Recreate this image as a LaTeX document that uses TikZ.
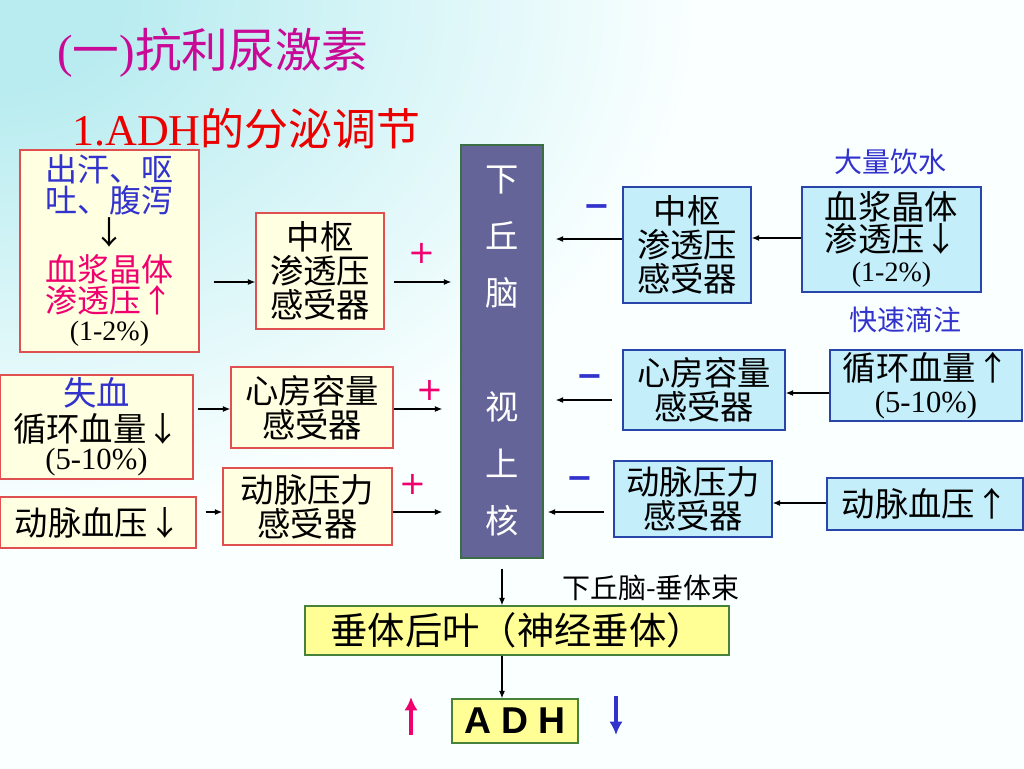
\documentclass[tikz,border=0pt]{standalone}
\usepackage{fontspec}
\setmainfont{Noto Sans CJK SC}
\newfontfamily\latin{Liberation Serif}
\newfontfamily\signfont{DejaVu Sans}
\newfontfamily\adhfont{Liberation Sans}
\usepackage{xcolor}
\usetikzlibrary{arrows.meta,positioning}

\definecolor{bgtop}{RGB}{185,236,240}
\definecolor{bgbot}{RGB}{250,255,255}
\definecolor{cmag}{RGB}{200,10,150}
\definecolor{cred}{RGB}{235,0,0}
\definecolor{cblue}{RGB}{50,50,205}
\definecolor{cpink}{RGB}{240,0,110}
\definecolor{lfill}{RGB}{255,255,225}
\definecolor{lline}{RGB}{225,80,80}
\definecolor{rfill}{RGB}{195,238,250}
\definecolor{rline}{RGB}{40,70,170}
\definecolor{hfill}{RGB}{100,100,152}
\definecolor{hline}{RGB}{60,110,70}
\definecolor{yfill}{RGB}{255,255,150}
\definecolor{yline}{RGB}{70,130,60}

% background: cyan in the upper left corner, fading to white
\pgfdeclareradialshading{bgshade}{\pgfpoint{0bp}{0bp}}{color(0bp)=(bgtop); color(3bp)=(bgtop); color(17bp)=(bgbot); color(50bp)=(bgbot)}

\tikzset{
    wh/.style 2 args={minimum width=#1*0.75pt,minimum height=#2*0.75pt},
    box/.style={draw,line width=1.1pt,inner sep=0pt,align=center,font=\fontsize{25}{25.5}\selectfont},
    lbox/.style={box,draw=lline,fill=lfill},
    rbox/.style={box,draw=rline,fill=rfill},
    ybox/.style={box,draw=yline,fill=yfill},
    arr/.style={-{Latex[length=5.5pt,width=4.5pt]},line width=0.9pt},
    bigarr/.style={-{Latex[length=10pt,width=10pt]},line width=2.5pt},
    plus/.style={text=cpink,font=\signfont\fontsize{24}{24}\selectfont},
    minus/.style={text=cblue,font=\signfont\bfseries\fontsize{24}{24}\selectfont},
    note/.style={font=\fontsize{21}{21}\selectfont}
}

\begin{document}
\begin{tikzpicture}[x=0.75pt,y=-0.75pt]
    % Background
    \useasboundingbox (0,0) rectangle (1024,768);
    \begin{scope}
        \clip (0,0) rectangle (1024,768);
        \shade[shading=bgshade] (-1024,-768) rectangle (1024,768);
    \end{scope}

    % Titles
    \node[anchor=west,inner sep=0pt,text=cmag,font=\fontsize{35}{35}\selectfont] (title) at (57,53) {{\latin(}一{\latin)}抗利尿激素};
    \node[anchor=west,inner sep=0pt,text=cred,font=\fontsize{33}{33}\selectfont] (subtitle) at (72,129) {{\latin 1.ADH}的分泌调节};

    % Hypothalamus
    \node[box,draw=hline,fill=hfill,text=white,wh={82}{413},font=\fontsize{25}{42.75}\selectfont] (hyp) at (502,351.5) {下\\丘\\脑\\[42.75pt]视\\上\\核};

    % Left side: stimuli
    \node[lbox,wh={179}{202},font=\fontsize{24}{21.5}\selectfont] (l1) at (109.5,251)
        {\textcolor{cblue}{出汗、呕}\\\textcolor{cblue}{吐、腹泻}\\[1pt]↓\\[4pt]\textcolor{cpink}{血浆晶体}\\\textcolor{cpink}{渗透压↑}\\{\latin\fontsize{21}{21}\selectfont(1-2\%)}};
    \node[lbox,wh={193}{104}] (l2) at (96.5,427)
        {\textcolor{cblue}{失血}\\[1pt]循环血量↓\\[-4pt]{\latin\fontsize{23}{23}\selectfont(5-10\%)}};
    \node[lbox,wh={196}{51}] (l3) at (98,522.5) {动脉血压↓};

    % Left side: receptors
    \node[lbox,wh={128}{116}] (m1) at (320,271) {中枢\\渗透压\\感受器};
    \node[lbox,wh={162}{81}] (m2) at (312,407.5) {心房容量\\感受器};
    \node[lbox,wh={169}{77}] (m3) at (307.5,506.5) {动脉压力\\感受器};

    % Right side: receptors
    \node[rbox,wh={128}{116}] (rm1) at (687,245) {中枢\\渗透压\\感受器};
    \node[rbox,wh={162}{80}] (rm2) at (704,390) {心房容量\\感受器};
    \node[rbox,wh={158}{76}] (rm3) at (693,499) {动脉压力\\感受器};

    % Right side: stimuli
    \node[rbox,wh={179}{105},font=\fontsize{25}{22.5}\selectfont] (r1) at (891.5,239.5)
        {血浆晶体\\渗透压↓\\{\latin\fontsize{21}{21}\selectfont(1-2\%)}};
    \node[rbox,wh={192}{71},font=\fontsize{25}{24}\selectfont] (r2) at (926,385.5)
        {循环血量↑\\{\latin\fontsize{23}{23}\selectfont(5-10\%)}};
    \node[rbox,wh={196}{52}] (r3) at (925,504) {动脉血压↑};
    \node[note,text=cblue] (drink) at (890,162) {大量饮水};
    \node[note,text=cblue] (drip) at (905,320) {快速滴注};

    % Pituitary and ADH
    \node[ybox,wh={424}{49},font=\fontsize{28}{28}\selectfont] (pit) at (517,630.5) {垂体后叶（神经垂体）};
    \node[ybox,wh={126}{44},font=\adhfont\bfseries\fontsize{28}{28}\selectfont] (adh) at (515,721) {A D H};
    \node[note] (tract) at (651,588) {下丘脑-垂体束};

    % Arrows into the hypothalamus
    \draw[arr,shorten <=10.5pt] (l1.east |- 0,282) -- (m1.west |- 0,282);
    \draw[arr,shorten <=6.75pt,shorten >=6.75pt] (m1.east |- 0,282) -- (hyp.west |- 0,282);
    \draw[arr,shorten <=3pt] (l2.east |- 0,409) -- (m2.west |- 0,409);
    \draw[arr,shorten >=13.5pt] (m2.east |- 0,409) -- (hyp.west |- 0,409);
    \draw[arr,shorten <=6.75pt] (l3.east |- 0,512) -- (m3.west |- 0,512);
    \draw[arr,shorten >=13.5pt] (m3.east |- 0,512) -- (hyp.west |- 0,512);
    \draw[arr] (r1.west |- 0,238) -- (rm1.east |- 0,238);
    \draw[arr,shorten >=9pt] (rm1.west |- 0,239) -- (hyp.east |- 0,239);
    \draw[arr] (r2.west |- 0,393) -- (rm2.east |- 0,393);
    \draw[arr,shorten <=7.5pt,shorten >=9pt] (rm2.west |- 0,400) -- (hyp.east |- 0,400);
    \draw[arr] (r3.west |- 0,503) -- (rm3.east |- 0,503);
    \draw[arr,shorten <=6.75pt,shorten >=3pt] (rm3.west |- 0,512) -- (hyp.east |- 0,512);

    % Arrows down to ADH
    \draw[arr,shorten <=7.5pt] (hyp.south) -- (hyp.south |- pit.north);
    \draw[arr] (hyp.south |- pit.south) -- (hyp.south |- adh.north);

    % Signs
    \node[plus] (p1) at (422,253) {+};
    \node[plus] (p2) at (430,390) {+};
    \node[plus] (p3) at (413,484) {+};
    \node[minus] (n1) at (597,211) {−};
    \node[minus] (n2) at (590,381) {−};
    \node[minus] (n3) at (580,483) {−};

    % Up and down marks beside ADH
    \coordinate (up0) at (411,735);
    \coordinate (up1) at (411,697);
    \coordinate (dn0) at (616,696);
    \coordinate (dn1) at (616,735);
    \draw[bigarr,cpink] (up0) -- (up1);
    \draw[bigarr,cblue] (dn0) -- (dn1);
\end{tikzpicture}
\end{document}
